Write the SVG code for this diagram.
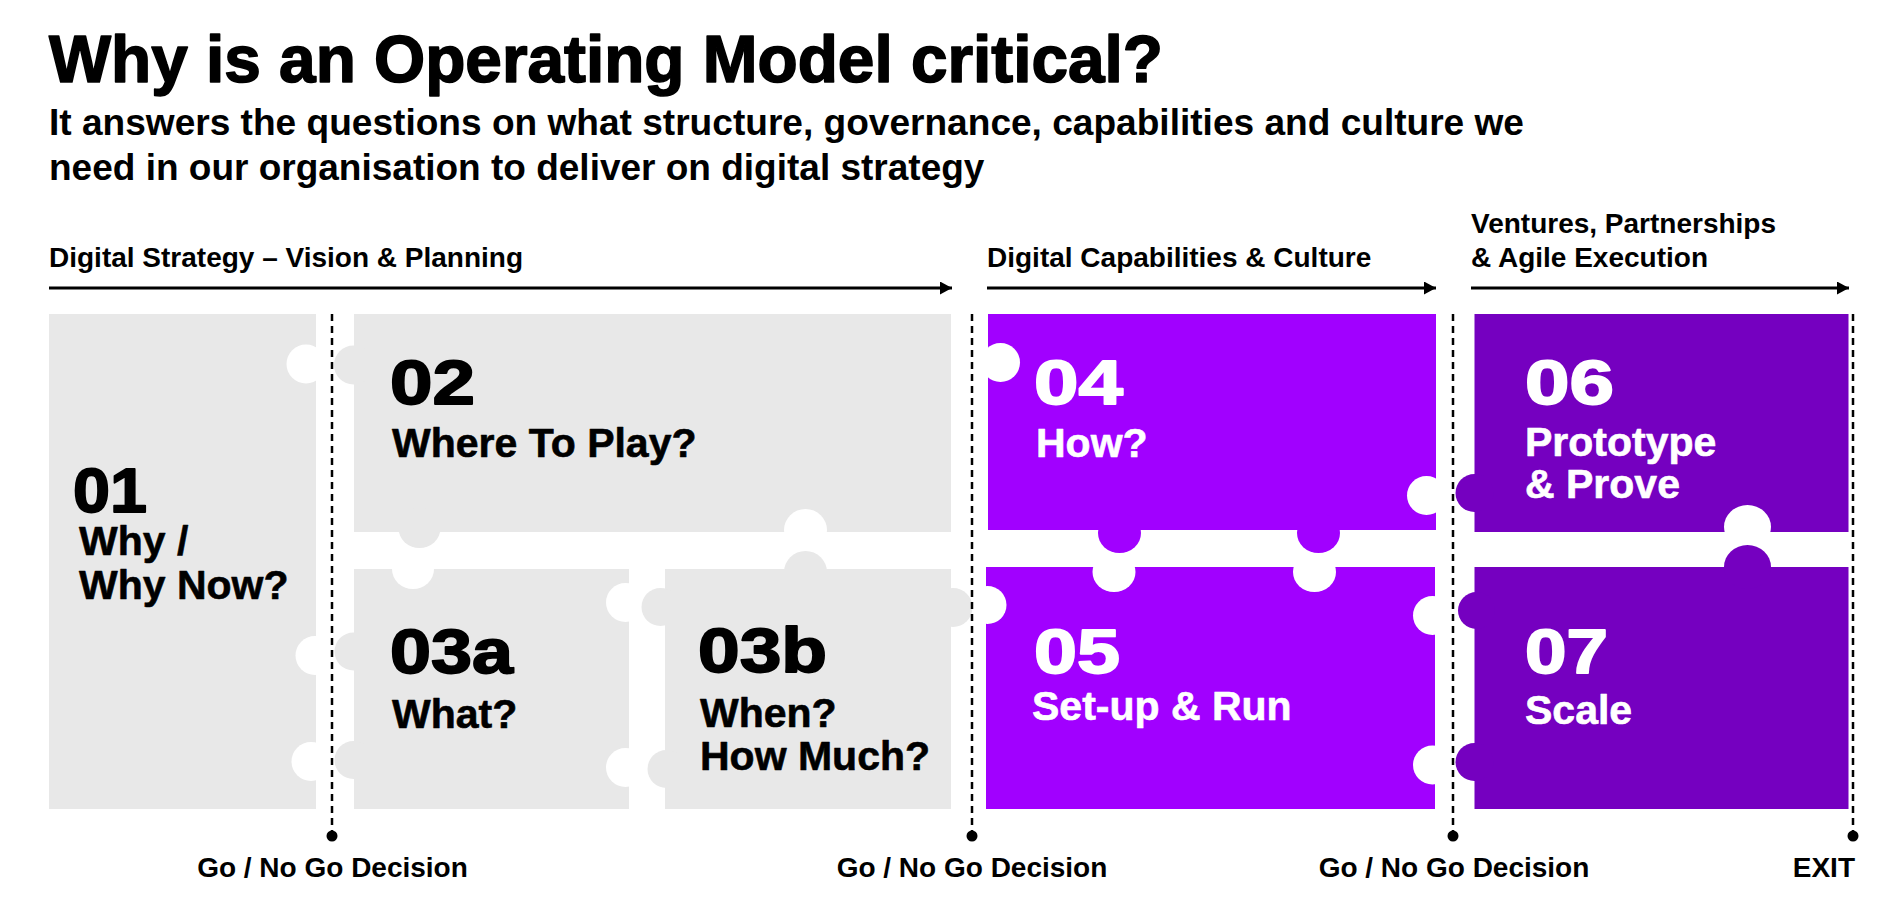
<svg xmlns="http://www.w3.org/2000/svg" width="1904" height="910" viewBox="0 0 1904 910">
<defs>
<style>
.t{font-family:"Liberation Sans",Arial,sans-serif;font-weight:700;fill:#000;stroke-linejoin:round}
.title{font-size:66px;stroke:#000;stroke-width:1.6}
.sub{font-size:37px}
.sec{font-size:28px}
.dec{font-size:28px}
.num{font-size:63px;stroke:#000;stroke-width:1.8}
.lbl{font-size:41px;stroke:#000;stroke-width:0.6}
.w{fill:#fff}
.num.w,.lbl.w{stroke:#fff}
.grey{fill:#E8E8E8}
.pur{fill:#A100FF}
.dpur{fill:#7500C0}
.hole{fill:#fff}
.arr{stroke:#000;stroke-width:3;fill:none}
.dash{stroke:#000;stroke-width:2.5;stroke-dasharray:7 5;fill:none}
</style>
<marker id="ah" markerUnits="userSpaceOnUse" markerWidth="13" markerHeight="13" refX="12" refY="6.5" orient="auto">
<path d="M0,0 L12,6.5 L0,13 Z" fill="#000"/>
</marker>
</defs>
<rect width="1904" height="910" fill="#fff"/>

<g id="heading">
<text class="t title" x="49" y="82" textLength="1114" lengthAdjust="spacingAndGlyphs">Why is an Operating Model critical?</text>
<text class="t sub" x="49" y="135" textLength="1475" lengthAdjust="spacingAndGlyphs">It answers the questions on what structure, governance, capabilities and culture we</text>
<text class="t sub" x="49" y="180">need in our organisation to deliver on digital strategy</text>
</g>

<g id="p01">
<rect class="grey" x="49" y="314" width="267" height="495"/>
<circle class="hole" cx="306" cy="364" r="19.5"/>
<circle class="hole" cx="315" cy="655.5" r="19.5"/>
<circle class="hole" cx="311" cy="761.5" r="19.5"/>
<text class="t num" x="73" y="512" textLength="74" lengthAdjust="spacingAndGlyphs">01</text>
<text class="t lbl" x="79" y="555">Why /</text>
<text class="t lbl" x="79" y="599">Why Now?</text>
</g>

<g id="p02">
<rect class="grey" x="354" y="314" width="597" height="218"/>
<circle class="grey" cx="353.5" cy="365" r="19.5"/>
<ellipse class="grey" cx="419.5" cy="528" rx="21" ry="20"/>
<ellipse class="hole" cx="805.5" cy="530" rx="21.5" ry="21"/>
<text class="t num" x="390" y="404" textLength="85" lengthAdjust="spacingAndGlyphs">02</text>
<text class="t lbl" x="392" y="457">Where To Play?</text>
</g>

<g id="p03a">
<rect class="grey" x="354" y="569" width="275" height="240"/>
<circle class="grey" cx="353.5" cy="651.5" r="19"/>
<circle class="grey" cx="353.5" cy="760" r="19"/>
<ellipse class="hole" cx="413" cy="569" rx="21" ry="20"/>
<circle class="hole" cx="625.5" cy="602.5" r="19.5"/>
<circle class="hole" cx="625.5" cy="767.5" r="19.5"/>
<text class="t num" x="390" y="673" textLength="123" lengthAdjust="spacingAndGlyphs">03a</text>
<text class="t lbl" x="392" y="728">What?</text>
</g>

<g id="p05">
<rect class="pur" x="986" y="567" width="449" height="242"/>
<circle class="hole" cx="987.5" cy="605" r="19"/>
<ellipse class="hole" cx="1114" cy="572" rx="21.5" ry="20"/>
<ellipse class="hole" cx="1314.5" cy="572" rx="21.5" ry="20"/>
<circle class="hole" cx="1432.5" cy="615.5" r="19.5"/>
<circle class="hole" cx="1432.5" cy="765" r="19.5"/>
<text class="t num w" x="1034" y="673" textLength="86" lengthAdjust="spacingAndGlyphs">05</text>
<text class="t lbl w" x="1032" y="720">Set-up &amp; Run</text>
</g>

<g id="p04">
<rect class="pur" x="988" y="314" width="448" height="216"/>
<circle class="hole" cx="1000.5" cy="362.5" r="19.5"/>
<circle class="hole" cx="1426.5" cy="495.5" r="19.5"/>
<ellipse class="pur" cx="1119.5" cy="533" rx="21.5" ry="20"/>
<ellipse class="pur" cx="1318.5" cy="533" rx="21.5" ry="20"/>
<text class="t num w" x="1034" y="404" textLength="89" lengthAdjust="spacingAndGlyphs">04</text>
<text class="t lbl w" x="1036" y="457">How?</text>
</g>

<g id="p03b">
<rect class="grey" x="665" y="569" width="286" height="240"/>
<circle class="grey" cx="660.5" cy="607" r="19"/>
<circle class="grey" cx="666.5" cy="769" r="19"/>
<ellipse class="grey" cx="805.5" cy="572" rx="21.5" ry="21"/>
<circle class="grey" cx="953" cy="607.5" r="19.5"/>
<text class="t num" x="698" y="672" textLength="129" lengthAdjust="spacingAndGlyphs">03b</text>
<text class="t lbl" x="700" y="727">When?</text>
<text class="t lbl" x="700" y="770">How Much?</text>
</g>

<g id="p06">
<rect class="dpur" x="1474.5" y="314" width="374" height="218"/>
<circle class="dpur" cx="1474.5" cy="493" r="19"/>
<ellipse class="hole" cx="1747.5" cy="527" rx="23.5" ry="22"/>
<text class="t num w" x="1525" y="404" textLength="89" lengthAdjust="spacingAndGlyphs">06</text>
<text class="t lbl w" x="1525" y="456">Prototype</text>
<text class="t lbl w" x="1525" y="498">&amp; Prove</text>
</g>

<g id="p07">
<rect class="dpur" x="1474.5" y="567" width="374" height="242"/>
<circle class="dpur" cx="1476.5" cy="610.5" r="18.5"/>
<circle class="dpur" cx="1474.5" cy="762" r="19"/>
<ellipse class="dpur" cx="1747.5" cy="567" rx="23.5" ry="22"/>
<text class="t num w" x="1525" y="673" textLength="83" lengthAdjust="spacingAndGlyphs">07</text>
<text class="t lbl w" x="1525" y="724">Scale</text>
</g>

<g id="connectors">
<line class="arr" x1="49" y1="288" x2="952" y2="288" marker-end="url(#ah)"/>
<line class="arr" x1="987" y1="288" x2="1436" y2="288" marker-end="url(#ah)"/>
<line class="arr" x1="1471" y1="288" x2="1849" y2="288" marker-end="url(#ah)"/>
<line class="dash" x1="332" y1="314" x2="332" y2="836"/>
<line class="dash" x1="972" y1="314" x2="972" y2="836"/>
<line class="dash" x1="1453" y1="314" x2="1453" y2="836"/>
<line class="dash" x1="1853" y1="314" x2="1853" y2="836"/>
<circle cx="332" cy="836" r="5.5" fill="#000"/>
<circle cx="972" cy="836" r="5.5" fill="#000"/>
<circle cx="1453" cy="836" r="5.5" fill="#000"/>
<circle cx="1853" cy="836" r="5.5" fill="#000"/>
</g>

<g id="labels">
<text class="t sec" x="49" y="267">Digital Strategy – Vision &amp; Planning</text>
<text class="t sec" x="987" y="267">Digital Capabilities &amp; Culture</text>
<text class="t sec" x="1471" y="233">Ventures, Partnerships</text>
<text class="t sec" x="1471" y="267">&amp; Agile Execution</text>
<text class="t dec" x="332.5" y="877" text-anchor="middle">Go / No Go Decision</text>
<text class="t dec" x="972" y="877" text-anchor="middle">Go / No Go Decision</text>
<text class="t dec" x="1454" y="877" text-anchor="middle">Go / No Go Decision</text>
<text class="t dec" x="1855" y="877" text-anchor="end">EXIT</text>
</g>
</svg>
